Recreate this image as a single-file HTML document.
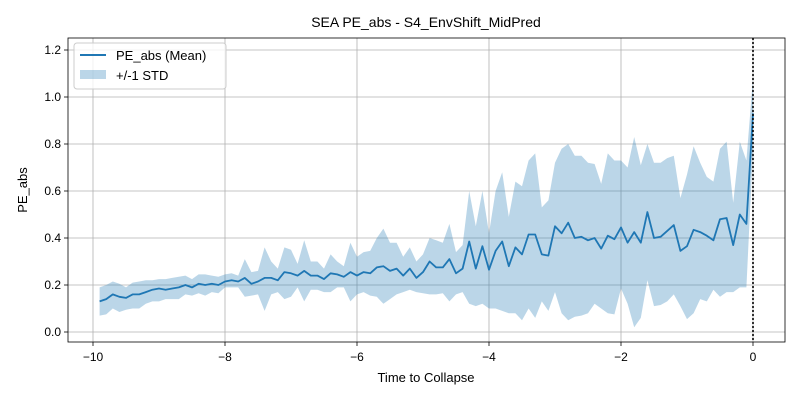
<!DOCTYPE html>
<html><head><meta charset="utf-8"><style>
body{margin:0;background:#fff;}
svg text{font-family:"Liberation Sans","DejaVu Sans",sans-serif;}
</style></head><body>
<svg id="chart" width="800" height="400" xmlns="http://www.w3.org/2000/svg">
<rect width="800" height="400" fill="#fff"/>
<text x="426" y="27" font-size="14" text-anchor="middle">SEA PE_abs - S4_EnvShift_MidPred</text>
<g id="grid"></g>
<g id="plot"></g>
<rect x="68" y="38" width="717" height="304" fill="none" stroke="#000" stroke-width="0.8"/>
<g id="ticks"></g>
<text x="426" y="382" font-size="13" text-anchor="middle">Time to Collapse</text>
<text transform="translate(27,190) rotate(-90)" font-size="13" text-anchor="middle">PE_abs</text>
<g>
<rect x="74" y="43" width="152" height="46" rx="3" fill="#fff" fill-opacity="0.8" stroke="#ccc"/>
<line x1="80" y1="55" x2="106" y2="55" stroke="#1f77b4" stroke-width="2"/>
<text x="116" y="60" font-size="13">PE_abs (Mean)</text>
<rect x="80" y="70" width="26" height="9" fill="#1f77b4" fill-opacity="0.3"/>
<text x="116" y="80" font-size="13">+/-1 STD</text>
</g>
</svg>
<script>
const meanVals=[.13,.14,.16,.15,.145,.16,.16,.17,.18,.185,.18,.185,.19,.20,.19,.205,.20,.205,.20,.215,.22,.215,.23,.205,.215,.23,.23,.22,.255,.25,.24,.26,.24,.24,.225,.25,.245,.235,.255,.24,.255,.25,.275,.28,.26,.27,.24,.27,.23,.255,.30,.275,.275,.31,.25,.27,.385,.27,.365,.265,.345,.385,.28,.36,.33,.415,.415,.33,.325,.45,.42,.465,.40,.405,.39,.40,.355,.41,.395,.445,.38,.425,.38,.51,.40,.405,.43,.455,.345,.365,.435,.425,.41,.39,.48,.485,.37,.50,.46,.93];
const upperVals=[.19,.20,.215,.205,.19,.21,.215,.22,.22,.225,.225,.23,.235,.24,.225,.245,.245,.24,.235,.245,.25,.24,.31,.255,.26,.36,.30,.27,.36,.35,.29,.39,.30,.30,.27,.33,.30,.28,.38,.32,.34,.345,.40,.44,.38,.38,.32,.36,.30,.33,.40,.39,.38,.46,.34,.37,.60,.45,.60,.42,.60,.68,.49,.64,.62,.73,.76,.53,.56,.72,.78,.80,.75,.75,.72,.715,.63,.76,.73,.73,.70,.83,.71,.80,.72,.72,.74,.75,.57,.67,.79,.72,.66,.64,.78,.81,.55,.81,.73,1.08];
const lowerVals=[.07,.075,.10,.085,.095,.10,.10,.12,.13,.13,.14,.14,.14,.16,.155,.165,.155,.17,.165,.19,.19,.19,.15,.155,.16,.09,.16,.17,.14,.15,.19,.13,.18,.18,.17,.17,.19,.19,.13,.16,.17,.155,.15,.12,.14,.16,.17,.18,.17,.165,.16,.16,.165,.13,.16,.17,.12,.11,.12,.10,.10,.09,.08,.08,.05,.10,.06,.13,.09,.17,.08,.05,.065,.07,.08,.12,.10,.08,.075,.185,.12,.02,.06,.22,.11,.115,.13,.16,.11,.055,.08,.14,.13,.18,.15,.17,.17,.19,.19,.78];
const xTicks=[-10,-8,-6,-4,-2,0];
const xTickLabels=["−10","−8","−6","−4","−2","0"];
const yTicks=[0,0.2,0.4,0.6,0.8,1.0,1.2];
const yTickLabels=["0.0","0.2","0.4","0.6","0.8","1.0","1.2"];
const NS="http://www.w3.org/2000/svg";
const xs=x=>93+(x+10)*66;
const ys=y=>332-y*235;
const n=meanVals.length;
const tAt=i=>-(n-1-i)*0.1;
function mk(t,a,p){const e=document.createElementNS(NS,t);for(const k in a)e.setAttribute(k,a[k]);p.appendChild(e);return e;}
const grid=document.getElementById('grid'),plot=document.getElementById('plot'),ticks=document.getElementById('ticks');
xTicks.forEach((v,i)=>{
 const g=mk('line',{x1:xs(v),x2:xs(v),y1:38,y2:342,stroke:'#b0b0b0','stroke-width':0.8},grid);
 
 
 mk('line',{x1:xs(v),x2:xs(v),y1:342,y2:346,stroke:'#000','stroke-width':0.8},ticks);
 const t=mk('text',{x:xs(v),y:361,'font-size':12,'text-anchor':'middle'},ticks);t.textContent=xTickLabels[i];
 
 
});
yTicks.forEach((v,i)=>{
 const g=mk('line',{x1:68,x2:785,y1:ys(v),y2:ys(v),stroke:'#b0b0b0','stroke-width':0.8},grid);
 
 
 mk('line',{x1:64,x2:68,y1:ys(v),y2:ys(v),stroke:'#000','stroke-width':0.8},ticks);
 const t=mk('text',{x:61,y:ys(v)+4,'font-size':12,'text-anchor':'end'},ticks);t.textContent=yTickLabels[i];
 
 
});
let d='';
for(let i=0;i<n;i++)d+=(i?'L':'M')+xs(tAt(i)).toFixed(1)+','+ys(upperVals[i]).toFixed(1);
for(let i=n-1;i>=0;i--)d+='L'+xs(tAt(i)).toFixed(1)+','+ys(lowerVals[i]).toFixed(1);
const band=mk('path',{d:d+'Z',fill:'#1f77b4','fill-opacity':0.3},plot);


let m='';
for(let i=0;i<n;i++)m+=(i?'L':'M')+xs(tAt(i)).toFixed(1)+','+ys(meanVals[i]).toFixed(1);
const line=mk('path',{d:m,fill:'none',stroke:'#1f77b4','stroke-width':1.8,'stroke-linejoin':'round'},plot);


const vl=mk('line',{x1:xs(0),x2:xs(0),y1:38,y2:342,stroke:'#000','stroke-width':1.6,'stroke-dasharray':'2,2'},plot);


</script>
</body></html>
